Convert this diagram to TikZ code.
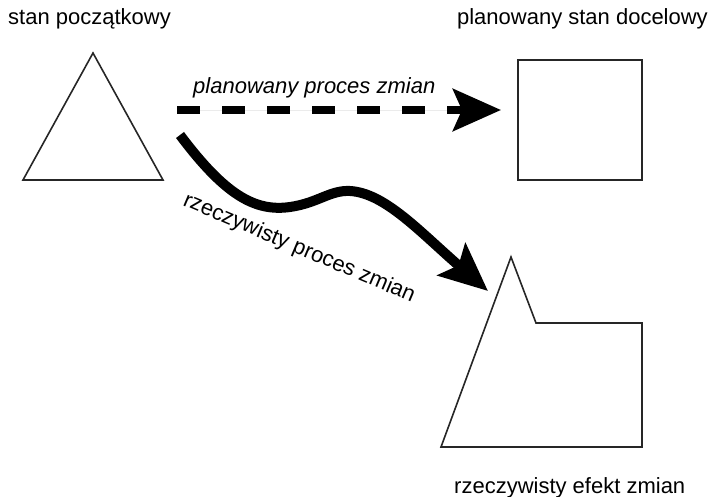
\documentclass[tikz,border=0pt]{standalone}
\usepackage{fontspec}
\setmainfont{Liberation Sans}
\usetikzlibrary{arrows.meta}
\begin{document}
\begin{tikzpicture}[x=1pt,y=-1pt,
  outline/.style={draw=black!85,line width=1.6pt,line join=miter},
  lbl/.style={font=\fontsize{22}{26}\selectfont,inner sep=0pt}]
\useasboundingbox (0,0) rectangle (710,497);
% shapes
\draw[outline] (93,53) -- (23,180) -- (163,180) -- cycle;
\draw[outline] (518,60) rectangle (642,180);
\draw[outline] (511,257) -- (536,323) -- (642,323) -- (642,447) -- (441,447) -- cycle;
% labels
\node[lbl,anchor=base west] (l1) at (8,25) {stan początkowy};
\node[lbl,anchor=base east] (l2) at (708,25) {planowany stan docelowy};
\node[lbl,anchor=base west] (l4) at (454,493) {rzeczywisty efekt zmian};
\node[lbl,anchor=base west,font=\fontsize{22}{26}\selectfont\itshape] (l3) at (193,94) {planowany proces zmian};
\node[lbl,anchor=base west,rotate=-23] (l5) at (182,205) {rzeczywisty proces zmian};
% connector endpoints
\coordinate (a1) at (177,110);
\coordinate (a2) at (501,110);
\coordinate (b1) at (180,135);
\coordinate (b2) at (488,291);
% planned process
\draw[black!8,line width=0.6pt] (a1) -- (452,110);
\draw[line width=8pt,dash pattern=on 23pt off 22pt,
  -{Stealth[length=48pt,width=42pt,inset=9pt]}] (a1) -- (a2);
% actual process
\draw[line width=10pt,-{Stealth[length=48pt,width=42pt,inset=9pt]}]
  (b1) .. controls (225,195) and (255,212) .. (290,207)
       .. controls (318,203) and (330,190) .. (350,191)
       .. controls (385,193) and (420,232) .. (b2);
\end{tikzpicture}
\end{document}
